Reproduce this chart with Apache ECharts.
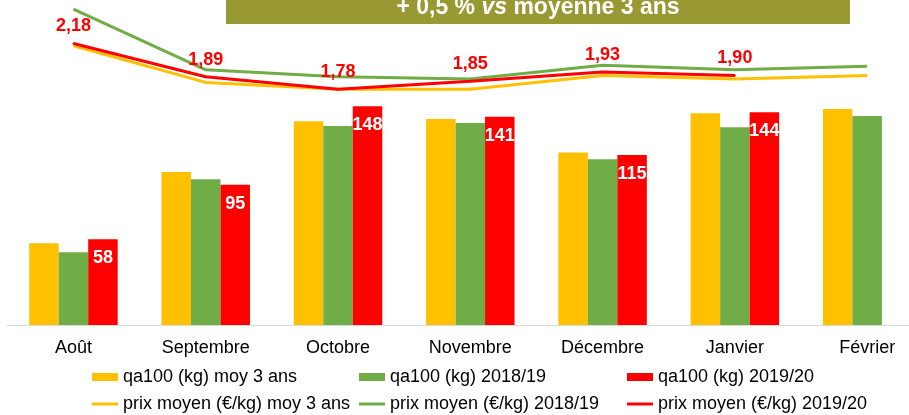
<!DOCTYPE html>
<html>
<head>
<meta charset="utf-8">
<script src="https://cdn.jsdelivr.net/npm/echarts@6/dist/echarts.min.js"></script>
<style>
  html, body { margin: 0; padding: 0; background: #fff; }
  #chart { width: 909px; height: 415px; }
</style>
</head>
<body>
<div id="chart"></div>
<script>
// données
const months = ["Août", "Septembre", "Octobre", "Novembre", "Décembre", "Janvier", "Février"];
const qaMoy3 = [55.3, 103.6, 138, 139.5, 116.7, 143.3, 146.2];
const qa1819 = [49.2, 98.6, 134.7, 136.8, 112.2, 133.8, 141.5];
const qa1920 = [58, 95, 148, 141, 115, 144, null];
const prixMoy3 = [2.16, 1.84, 1.78, 1.78, 1.90, 1.87, 1.90];
const prix1819 = [2.48, 1.95, 1.89, 1.87, 1.99, 1.95, 1.98];
const prix1920 = [2.18, 1.89, 1.78, 1.85, 1.93, 1.90, null];
const names = {
  qaMoy3: "qa100 (kg) moy 3 ans",
  qa1819: "qa100 (kg) 2018/19",
  qa1920: "qa100 (kg) 2019/20",
  prixMoy3: "prix moyen (€/kg) moy 3 ans",
  prix1819: "prix moyen (€/kg) 2018/19",
  prix1920: "prix moyen (€/kg) 2019/20"
};

const FONT = "'Liberation Sans', Arial, sans-serif";
const YELLOW = "#ffc000";
const GREEN = "#70ad47";
const RED = "#ff0000";
const lineIcon = "path://M0,0H26V3H0Z";

const chart = echarts.init(document.getElementById("chart"));

// une légende par colonne (barre + ligne)
const legendBase = {
  orient: "vertical",
  top: 368,
  padding: 0,
  itemWidth: 26,
  itemHeight: 8,
  itemGap: 9,
  selectedMode: false,
  itemStyle: { borderWidth: 0 },
  textStyle: { fontSize: 18, color: "#000", fontFamily: FONT }
};

const barSeries = (name, data, color, withLabel) => ({
  name: name,
  type: "bar",
  yAxisIndex: 0,
  data: data,
  barWidth: 29.5,
  barGap: "0%",
  itemStyle: { color: color },
  label: withLabel ? {
    show: true,
    position: "insideTop",
    distance: 10,
    color: "#fff",
    fontSize: 18,
    fontWeight: "bold",
    fontFamily: FONT
  } : { show: false }
});

const lineSeries = (name, data, color, withLabel) => ({
  name: name,
  type: "line",
  yAxisIndex: 1,
  data: data,
  symbol: withLabel ? "circle" : "none",
  symbolSize: 2,
  showSymbol: withLabel,
  lineStyle: { color: color, width: 3 },
  itemStyle: { color: color },
  label: withLabel ? {
    show: true,
    position: "top",
    distance: 7,
    color: RED,
    fontSize: 18,
    fontWeight: "bold",
    fontFamily: FONT,
    formatter: p => p.value.toFixed(2).replace(".", ",")
  } : { show: false }
});

chart.setOption({
  animation: false,
  textStyle: { fontFamily: FONT },
  grid: { left: 7.3, right: -24.3, top: 0, bottom: 90, outerBoundsMode: "none" },
  legend: [
    Object.assign({ left: 92, data: [{ name: names.qaMoy3, icon: "rect" }, { name: names.prixMoy3, icon: lineIcon }] }, legendBase),
    Object.assign({ left: 359, data: [{ name: names.qa1819, icon: "rect" }, { name: names.prix1819, icon: lineIcon }] }, legendBase),
    Object.assign({ left: 627, data: [{ name: names.qa1920, icon: "rect" }, { name: names.prix1920, icon: lineIcon }] }, legendBase)
  ],
  xAxis: {
    type: "category",
    data: months,
    axisLine: { lineStyle: { color: "#d9d9d9", width: 1 } },
    axisTick: { show: false },
    axisLabel: { fontSize: 18, color: "#000", margin: 14, interval: 0 }
  },
  yAxis: [
    { type: "value", min: 0, max: 220, show: false },
    { type: "value", min: -0.28, max: 2.56, show: false }
  ],
  graphic: [
    { type: "rect", shape: { x: 226, y: 0, width: 624, height: 24 }, style: { fill: "#999933" } },
    {
      type: "text",
      x: 538,
      y: 8,
      style: {
        text: "{a|+ 0,5 % }{b|vs}{a| moyenne 3 ans}",
        align: "center",
        verticalAlign: "middle",
        rich: {
          a: { fontSize: 23, fontWeight: "bold", fill: "#fff", fontFamily: FONT },
          b: { fontSize: 23, fontWeight: "bold", fontStyle: "italic", fill: "#fff", fontFamily: FONT }
        }
      }
    }
  ],
  series: [
    barSeries(names.qaMoy3, qaMoy3, YELLOW, false),
    barSeries(names.qa1819, qa1819, GREEN, false),
    barSeries(names.qa1920, qa1920, RED, true),
    lineSeries(names.prixMoy3, prixMoy3, YELLOW, false),
    lineSeries(names.prix1819, prix1819, GREEN, false),
    lineSeries(names.prix1920, prix1920, RED, true)
  ]
});
</script>
</body>
</html>
